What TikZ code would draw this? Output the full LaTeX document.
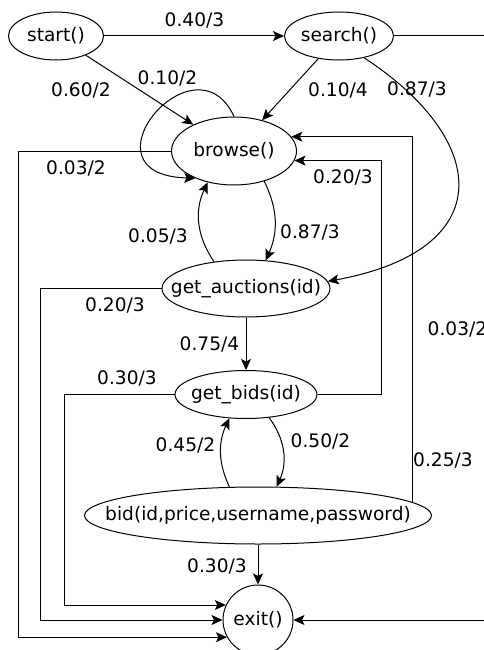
\documentclass[tikz,border=0pt]{standalone}
\usepackage{fontspec}
\setmainfont{DejaVu Sans}
\usetikzlibrary{shapes.geometric,arrows.meta}

\begin{document}
\begin{tikzpicture}[x=1pt, y=-1pt]
    \tikzstyle{func}=[
        draw = black,
        line width = 1pt,
        ellipse,
        inner sep = 0pt,
        font = \fontsize{18.6}{20}\selectfont,
        execute at begin node = {\hbox to 0pt\bgroup\hss},
        execute at end node = {\hss\egroup}
    ]
    \tikzstyle{lbl}=[
        font = \fontsize{18.6}{20}\selectfont,
        inner sep = 0pt
    ]
    \tikzstyle{arr}=[
        line width = 1pt,
        -{Stealth[length=11pt, width=10pt, inset=2.5pt]}
    ]

    \fill[white] (0,0) rectangle (484,650);
    \clip (0,0) rectangle (484,650);

	\node[func, minimum width=95pt,  minimum height=48pt] (start)  at (56, 36)    {start()};
	\node[func, minimum width=109pt, minimum height=48pt] (search) at (339, 36)   {search()};
	\node[func, minimum width=125pt, minimum height=68pt] (browse) at (234, 151)  {browse()};
	\node[func, minimum width=168pt, minimum height=57pt] (auct)   at (246, 288.5) {get\_auctions(id)};
	\node[func, minimum width=142pt, minimum height=48pt] (bids)   at (246, 394.5) {get\_bids(id)};
	\node[func, minimum width=347pt, minimum height=57pt] (bid)    at (258, 515.5) {bid(id,price,username,password)};
	\node[func, circle, minimum size=70pt]                (exit)   at (258, 620)   {exit()};

	\draw[arr] (start) -- (search) node[lbl] at (194.5, 20) {0.40/3};
	\draw[arr] (start) -- (browse) node[lbl] at (81, 90) {0.60/2};
	\draw[arr] (browse.north) .. controls (195, 32) and (75, 175) .. (browse.215) node[lbl] at (167.5, 78) {0.10/2};
	\draw[arr] (search) -- (browse) node[lbl] at (338, 90) {0.10/4};
	\draw[arr] (search.-41) .. controls (490, 140) and (500, 250) .. (auct.5) node[lbl] at (417, 89) {0.87/3};
	\draw[arr] (search.east) -- ++(99, 0) |- (exit.east) node[lbl] at (457.5, 329) {0.03/2};
	\draw[arr] (browse.west) -- ++(-153, 0) |- (exit.209) node[lbl] at (76, 168) {0.03/2};
	\draw[arr] (browse.-45) to[bend left=25] (auct.55) node[lbl] at (310, 232) {0.87/3};
	\draw[arr] (auct.140) to[bend left=30] (browse.230) node[lbl] at (158, 236) {0.05/3};
	\draw[arr] (auct.west) -- ++(-121, 0) |- (exit.west) node[lbl] at (115, 305) {0.20/3};
	\draw[arr] (auct) -- (bids) node[lbl] at (209.5, 344) {0.75/4};
	\draw[arr] (bids.east) -- ++(64, 0) |- (browse.-9) node[lbl] at (343, 177) {0.20/3};
	\draw[arr] (bids.west) -- ++(-110, 0) |- (exit.155) node[lbl] at (127, 378) {0.30/3};
	\draw[arr] (bids.-45) to[bend left=30] (bid.57) node[lbl] at (320.5, 441) {0.50/2};
	\draw[arr] (bid.135) to[bend left=25] (bids.235) node[lbl] at (185.5, 445) {0.45/2};
	\draw[arr] (bid.5.5) |- (browse.14) node[lbl] at (443, 460) {0.25/3};
	\draw[arr] (bid) -- (exit) node[lbl] at (217, 566) {0.30/3};

\end{tikzpicture}
\end{document}
